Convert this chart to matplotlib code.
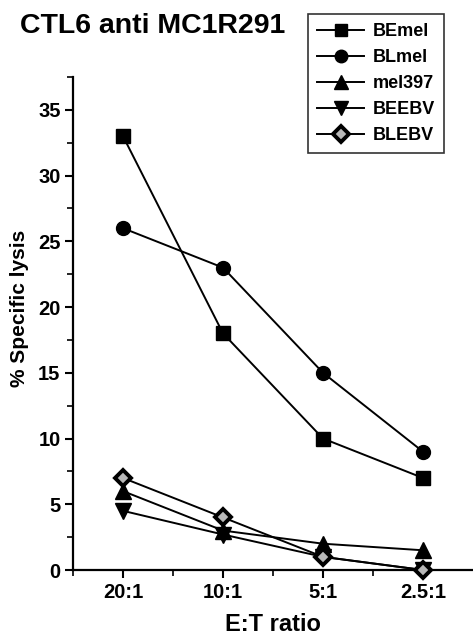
import matplotlib
matplotlib.use("Agg")
import matplotlib.pyplot as plt
from matplotlib.ticker import MultipleLocator, FixedLocator

plt.rcParams['font.family'] = ['Liberation Sans', 'DejaVu Sans']

ratios = ["20:1", "10:1", "5:1", "2.5:1"]
BEmel = [33, 18, 10, 7]
BLmel = [26, 23, 15, 9]
mel397 = [6, 3, 2, 1.5]
BEEBV = [4.5, 2.7, 1, 0]
BLEBV = [7, 4, 1, 0]

fig = plt.figure(figsize=(4.73, 6.37), dpi=100)
ax = fig.add_axes([73/473, 1-570/637, 1-73/473, (570-77)/637])

x = list(range(len(ratios)))
lw = 1.4
ax.plot(x, BEmel, '-', color='black', lw=lw, marker='s', ms=9.5, mfc='black', mec='black', label='BEmel', clip_on=False, zorder=3)
ax.plot(x, BLmel, '-', color='black', lw=lw, marker='o', ms=10, mfc='black', mec='black', label='BLmel', clip_on=False, zorder=3)
ax.plot(x, mel397, '-', color='black', lw=lw, marker='^', ms=11, mfc='black', mec='black', label='mel397', clip_on=False, zorder=3)
ax.plot(x, BEEBV, '-', color='black', lw=lw, marker='v', ms=11, mfc='black', mec='black', label='BEEBV', clip_on=False, zorder=3)
ax.plot(x, BLEBV, '-', color='black', lw=lw, marker='D', ms=8.5, mfc='#b8b8b8', mec='black', mew=2.8, label='BLEBV', clip_on=False, zorder=4)

ax.set_xlim(-0.5, 3.5)
ax.set_ylim(0, 37.5)
ax.spines['top'].set_visible(False)
ax.spines['right'].set_visible(False)
ax.spines['left'].set_linewidth(1.6)
ax.spines['bottom'].set_linewidth(1.6)

ax.set_xticks(x)
ax.set_xticklabels(ratios, fontsize=14.5, fontweight='bold')
ax.xaxis.set_minor_locator(FixedLocator([-0.5, 0.5, 1.5, 2.5]))
ax.yaxis.set_minor_locator(MultipleLocator(2.5))
ax.set_yticks([0, 5, 10, 15, 20, 25, 30, 35])
ax.set_yticklabels([str(v) for v in [0, 5, 10, 15, 20, 25, 30, 35]], fontsize=14.5, fontweight='bold')
ax.tick_params(which='major', direction='out', length=6, width=1.5, pad=3)
ax.tick_params(which='minor', direction='out', length=4, width=1.2)

ax.set_xlabel('E:T ratio', fontsize=17, fontweight='bold', labelpad=8)
ax.set_ylabel('% Specific lysis', fontsize=15, fontweight='bold')
ax.yaxis.set_label_coords(-0.11, 0.53)

fig.text(20/473, 1-26/637, 'CTL6 anti MC1R291', fontsize=20.5, fontweight='bold', ha='left', va='center')

leg = fig.legend(loc='upper left', bbox_to_anchor=(308/473, 1-14/637), frameon=True, fancybox=False,
                 edgecolor='black', prop={'size': 13, 'weight': 'bold'}, handlelength=2.6,
                 handletextpad=0.5, borderpad=0.5, labelspacing=0.5, markerscale=0.9,
                 borderaxespad=0)
leg.get_frame().set_linewidth(1.2)

fig.savefig('out.png', dpi=100)
